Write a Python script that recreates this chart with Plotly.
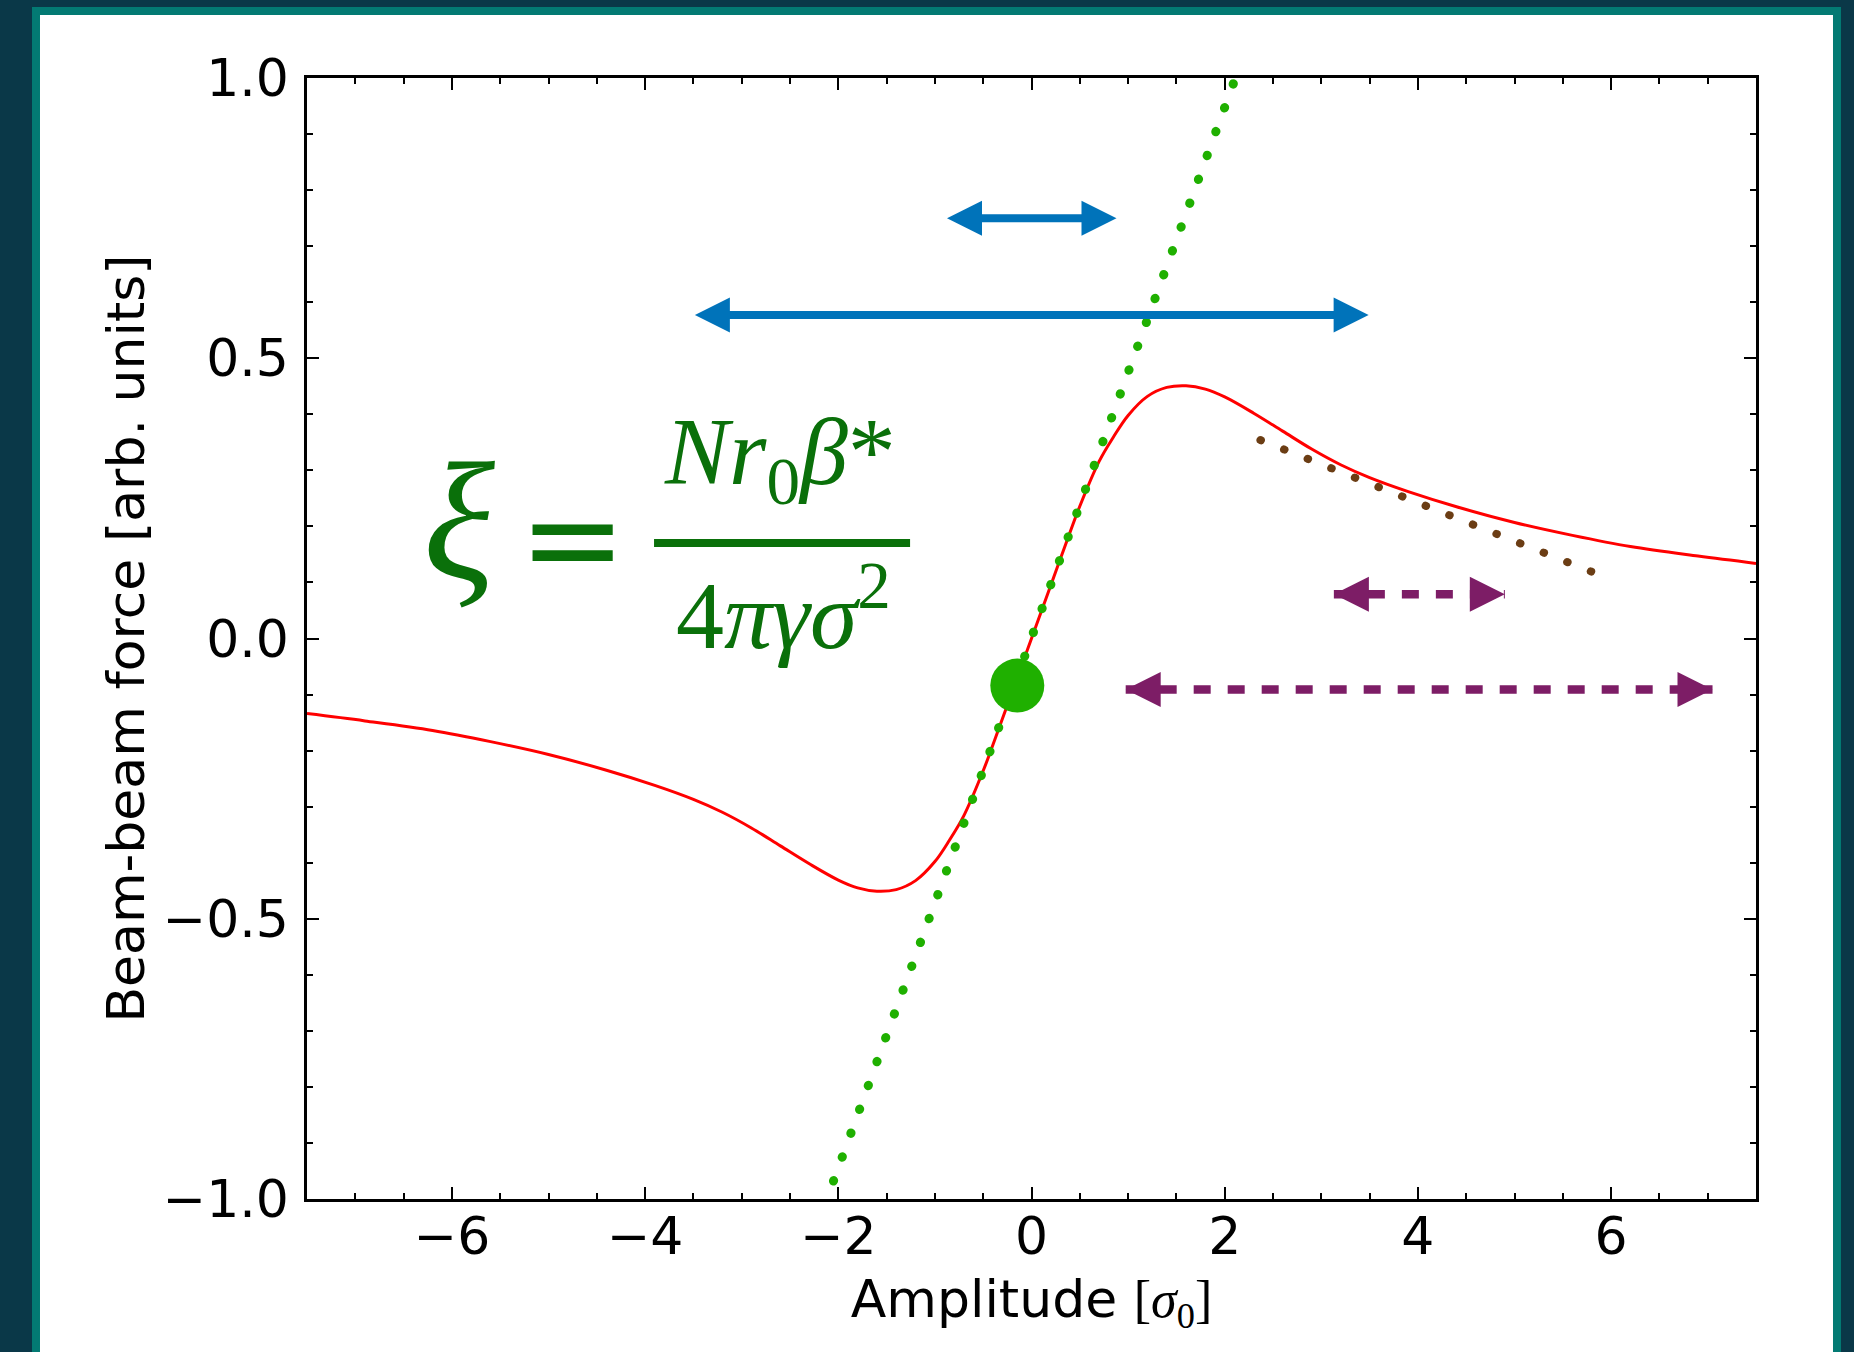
import plotly.graph_objects as go

# ---- data ----
curve_x = [-7.50, -6.90, -6.20, -5.60, -5.00, -4.40, -3.90, -3.50, -3.20, -2.90,
           -2.60, -2.30, -2.00, -1.80, -1.60, -1.40, -1.20, -1.00, -0.85, -0.70,
           -0.50, -0.40, -0.20, 0.00, 0.20, 0.40, 0.50, 0.70, 0.85, 1.00,
           1.20, 1.40, 1.60, 1.80, 2.00, 2.30, 2.60, 2.90, 3.20, 3.50,
           3.90, 4.40, 5.00, 5.60, 6.20, 6.90, 7.50]
curve_y = [-0.134, -0.147, -0.164, -0.184, -0.207, -0.235, -0.262, -0.287, -0.310, -0.338,
           -0.370, -0.402, -0.431, -0.445, -0.451, -0.448, -0.432, -0.398, -0.360, -0.316,
           -0.236, -0.190, -0.095, 0.000, 0.095, 0.190, 0.236, 0.316, 0.360, 0.398,
           0.432, 0.448, 0.451, 0.445, 0.431, 0.402, 0.370, 0.338, 0.310, 0.287,
           0.262, 0.235, 0.207, 0.184, 0.164, 0.147, 0.134]

linear_x = [-2.050, 2.096]
linear_y = [-0.968, 0.993]

tail_x = [2.37, 5.80]
tail_y = [0.354, 0.119]

point_x = [-0.147]
point_y = [-0.084]

blue_x0 = [-0.89, -3.50]
blue_x1 = [0.88, 3.49]
blue_y = [0.750, 0.577]

purple_x0 = [3.13, 0.975]
purple_x1 = [4.90, 7.05]
purple_y = [0.079, -0.091]

# ---- style ----
RED = "#ff0000"
GREEN = "#1fb000"
BROWN = "#6b3d14"
BLUE = "#0073ba"
PURPLE = "#7d1d66"
FGREEN = "#0a700a"
DARK = "#0a3848"
TEAL = "#037a73"
FONT = "DejaVu Sans"
SERIF = "Liberation Serif"
HEAD = 0.875

fig = go.Figure()

fig.add_trace(go.Scatter(x=curve_x, y=curve_y, mode="lines",
                         line=dict(color=RED, width=3, shape="spline", smoothing=1.0),
                         hoverinfo="skip"))
# dotted lines (dash of 0.5px + round caps set after drawing -> round dots)
fig.add_trace(go.Scatter(x=linear_x, y=linear_y, mode="lines",
                         line=dict(color=GREEN, width=9, dash="0.5px,24.88px"),
                         hoverinfo="skip"))
fig.add_trace(go.Scatter(x=tail_x, y=tail_y, mode="lines",
                         line=dict(color=BROWN, width=8, dash="0.5px,24.89px"),
                         hoverinfo="skip"))

# purple dashed shafts
for x0, x1, yy in zip(purple_x0, purple_x1, purple_y):
    fig.add_trace(go.Scatter(x=[x0, x1], y=[yy, yy], mode="lines",
                             line=dict(color=PURPLE, width=8.5, dash="17px,17px"),
                             hoverinfo="skip"))

fig.add_trace(go.Scatter(x=point_x, y=point_y, mode="markers",
                         marker=dict(color=GREEN, size=54, line=dict(width=0)),
                         hoverinfo="skip"))

annotations = []
# blue double arrows (solid)
for x0, x1, yy in zip(blue_x0, blue_x1, blue_y):
    annotations.append(dict(x=x1, y=yy, ax=x0, ay=yy, xref="x", yref="y",
                            axref="x", ayref="y", text="", showarrow=True,
                            arrowside="end+start", arrowhead=2, startarrowhead=2,
                            arrowsize=HEAD, startarrowsize=HEAD,
                            arrowwidth=8, arrowcolor=BLUE))
# purple heads
for x0, x1, yy in zip(purple_x0, purple_x1, purple_y):
    annotations.append(dict(x=x1, y=yy, ax=-24, ay=0, xref="x", yref="y",
                            text="", showarrow=True, arrowhead=2, arrowsize=HEAD,
                            arrowwidth=8, arrowcolor=PURPLE))
    annotations.append(dict(x=x0, y=yy, ax=24, ay=0, xref="x", yref="y",
                            text="", showarrow=True, arrowhead=2, arrowsize=HEAD,
                            arrowwidth=8, arrowcolor=PURPLE))

# formula
annotations += [
    dict(x=0.1050, y=0.6050, xref="paper", yref="paper", showarrow=False,
         text="<i>ξ</i>", font=dict(family=SERIF, size=168, color=FGREEN),
         xanchor="center", yanchor="middle"),
    dict(x=0.1829, y=0.589, xref="paper", yref="paper", showarrow=False,
         text="=", font=dict(family=FONT, size=128, color=FGREEN),
         xanchor="center", yanchor="middle"),
    dict(x=0.3264, y=0.6610, xref="paper", yref="paper", showarrow=False,
         text="<i>Nr</i><sub>0</sub><i>β</i>*", font=dict(family=SERIF, size=96, color=FGREEN),
         xanchor="center", yanchor="middle"),
    dict(x=0.3288, y=0.5272, xref="paper", yref="paper", showarrow=False,
         text="4<i>πγσ</i><sup>2</sup>", font=dict(family=SERIF, size=96, color=FGREEN),
         xanchor="center", yanchor="middle"),
]

shapes = [
    dict(type="rect", xref="paper", yref="paper", x0=-0.18979, x1=1.05866,
         y0=-0.2, y1=1.06334, fillcolor=TEAL, line=dict(width=0), layer="below"),
    dict(type="rect", xref="paper", yref="paper", x0=-0.18427, x1=1.05314,
         y0=-0.2, y1=1.05620, fillcolor="white", line=dict(width=0), layer="below"),
    dict(type="line", xref="paper", yref="paper", x0=0.2395, x1=0.4162,
         y0=0.5852, y1=0.5852, line=dict(color=FGREEN, width=8)),
]

axis_common = dict(
    showline=True, linewidth=2.5, linecolor="black", mirror="allticks",
    ticks="inside", ticklen=12, tickwidth=2, tickcolor="black",
    showgrid=False, zeroline=False,
    tickfont=dict(family=FONT, size=52, color="black"),
)

fig.update_layout(
    width=1854, height=1352,
    margin=dict(l=307, r=98, t=78, b=153),
    paper_bgcolor=DARK, plot_bgcolor="rgba(0,0,0,0)",
    showlegend=False, hovermode=False,
    font=dict(family=FONT, color="black"),
    annotations=annotations, shapes=shapes,
    xaxis=dict(range=[-7.5, 7.5], tickmode="linear", tick0=0, dtick=2,
               minor=dict(dtick=0.5, ticks="inside", ticklen=6, tickwidth=1.5,
                          tickcolor="black", showgrid=False),
               ticklabelstandoff=-10,
               title=dict(text='Amplitude <span style="font-family:Liberation Serif">[<i>σ</i><sub>0</sub>]</span>',
                          font=dict(family=FONT, size=52, color="black"), standoff=16),
               **axis_common),
    yaxis=dict(range=[-1.0, 1.0], tickmode="linear", tick0=0, dtick=0.5, tickformat=".1f",
               minor=dict(dtick=0.1, ticks="inside", ticklen=6, tickwidth=1.5,
                          tickcolor="black", showgrid=False),
               ticklabelstandoff=5,
               title=dict(text="Beam-beam force [arb. units]",
                          font=dict(family=FONT, size=52, color="black"), standoff=2),
               **axis_common),
)

page_fix = (
    "document.body.style.margin='0';document.body.style.padding='0';"
    "document.body.style.background='%s';"
    "document.documentElement.style.background='%s';"
    "document.querySelectorAll('path.js-line').forEach(function(p){"
    "var d=p.style.strokeDasharray||'';"
    "if(d.indexOf('0.5')===0){p.style.strokeLinecap='round';}});" % (DARK, DARK)
)

fig.write_html("out.html", config={"displayModeBar": False}, post_script=page_fix)
